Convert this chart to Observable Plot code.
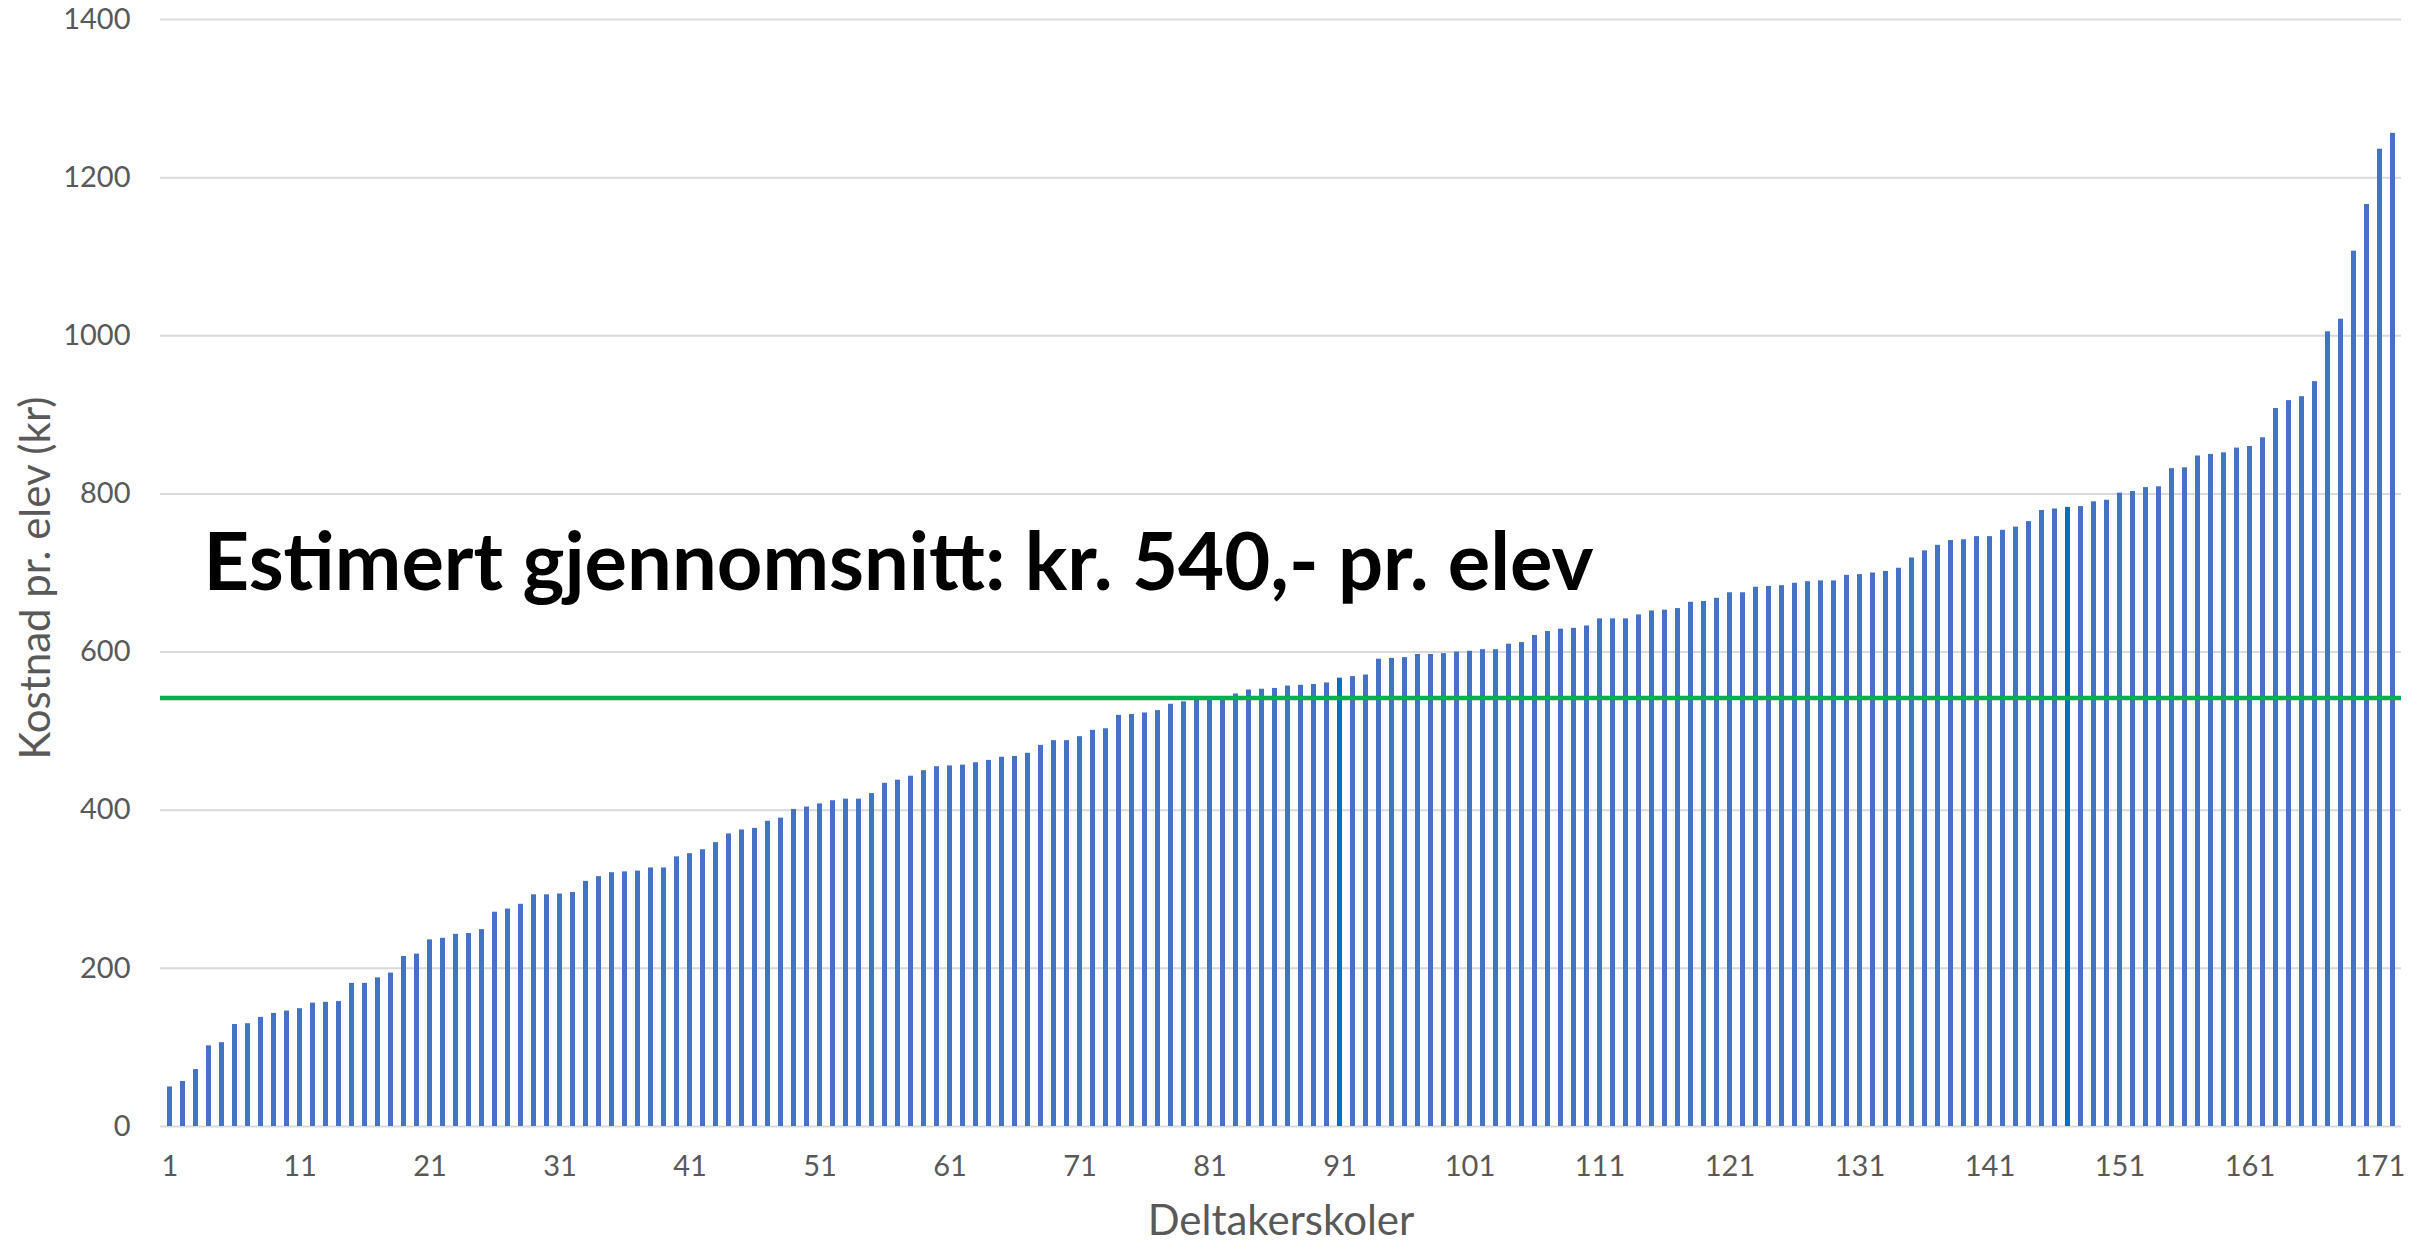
<!DOCTYPE html>
<html>
<head>
<meta charset="utf-8">
<script src="https://cdn.jsdelivr.net/npm/d3@7"></script>
<script src="https://cdn.jsdelivr.net/npm/@observablehq/plot@0.6"></script>
<style>
  html, body { margin: 0; padding: 0; background: #ffffff; }
  #chart { width: 2432px; height: 1242px; }
</style>
</head>
<body>
<div id="chart"></div>
<script>
// Category labels: participating schools 1..172
const schools = d3.range(1, 173);

// Cost per pupil (kr)
const costs = [
  50, 57, 72, 102, 106, 129, 130, 138, 143, 146,
  149, 156, 157, 158, 181, 181, 188, 194, 215, 218,
  236, 238, 243, 244, 249, 271, 275, 281, 293, 293,
  294, 296, 310, 316, 321, 322, 323, 327, 327, 341,
  345, 350, 359, 370, 375, 377, 386, 390, 401, 404,
  408, 412, 414, 414, 421, 434, 438, 443, 450, 455,
  456, 457, 460, 463, 467, 468, 472, 482, 488, 488,
  493, 501, 503, 520, 521, 523, 526, 534, 537, 539,
  540, 541, 547, 552, 553, 554, 557, 558, 559, 561,
  567, 569, 571, 591, 592, 593, 597, 597, 598, 600,
  601, 603, 603, 610, 612, 621, 626, 629, 630, 633,
  642, 642, 642, 647, 652, 653, 655, 663, 664, 668,
  675, 675, 682, 683, 684, 687, 689, 690, 690, 697,
  698, 700, 702, 706, 719, 728, 735, 741, 742, 746,
  746, 754, 758, 765, 779, 781, 783, 784, 790, 792,
  801, 803, 808, 809, 832, 833, 848, 850, 852, 858,
  860, 871, 908, 918, 923, 942, 1005, 1021, 1107, 1166,
  1236, 1256
];

// Schools drawn in a darker blue
const highlighted = [91, 147];

// Estimated average line
const meanCost = 542;

// Tick labels
const xTickLabels = [1, 11, 21, 31, 41, 51, 61, 71, 81, 91, 101, 111, 121, 131, 141, 151, 161, 171];
const yTicks = [0, 200, 400, 600, 800, 1000, 1200, 1400];

// Texts
const annotationText = "Estimert gjennomsnitt: kr. 540,- pr. elev";
const xLabel = "Deltakerskoler";
const yLabel = "Kostnad pr. elev (kr)";

const data = schools.map((s, i) => ({school: s, cost: costs[i]}));

const chart = Plot.plot({
  width: 2432,
  height: 1242,
  marginLeft: 160,
  marginRight: 31,
  marginTop: 19,
  marginBottom: 116,
  style: {fontFamily: "Lato, 'Open Sans', sans-serif", background: "#ffffff", color: "#595959", overflow: "visible"},
  x: {type: "band", domain: schools, paddingInner: 0.62, paddingOuter: 0.31},
  y: {domain: [0, 1400]},
  marks: [
    Plot.ruleY(yTicks, {stroke: "#D9D9D9", strokeWidth: 2}),
    Plot.barY(data, {
      x: "school",
      y: "cost",
      fill: d => highlighted.includes(d.school) ? "#0070C0" : "#4472C4"
    }),
    Plot.ruleY([meanCost], {stroke: "#00B050", strokeWidth: 4.5}),
    Plot.axisY(yTicks, {tickSize: 0, tickPadding: 30, fontSize: 29, tickFormat: d => String(d), label: null}),
    Plot.axisX(xTickLabels, {tickSize: 0, tickPadding: 29, fontSize: 29, tickFormat: d => String(d), label: null}),
    Plot.text([yLabel], {text: d => d, frameAnchor: "left", textAnchor: "middle", dx: -124, dy: 5, rotate: -90, fontSize: 42, fill: "#595959"}),
    Plot.text([xLabel], {text: d => d, frameAnchor: "bottom", textAnchor: "middle", dy: 108, fontSize: 42, fill: "#595959"}),
    Plot.text([annotationText], {
      text: d => d,
      frameAnchor: "top-left",
      dx: 43,
      dy: 514,
      textAnchor: "start",
      fontSize: 80,
      fontWeight: "bold",
      fill: "#000000"
    })
  ]
});

d3.select(chart).selectAll("text")
  .filter(function() { return this.textContent === annotationText; })
  .attr("textLength", 1390)
  .attr("lengthAdjust", "spacingAndGlyphs");

document.getElementById("chart").appendChild(chart);
</script>
</body>
</html>
